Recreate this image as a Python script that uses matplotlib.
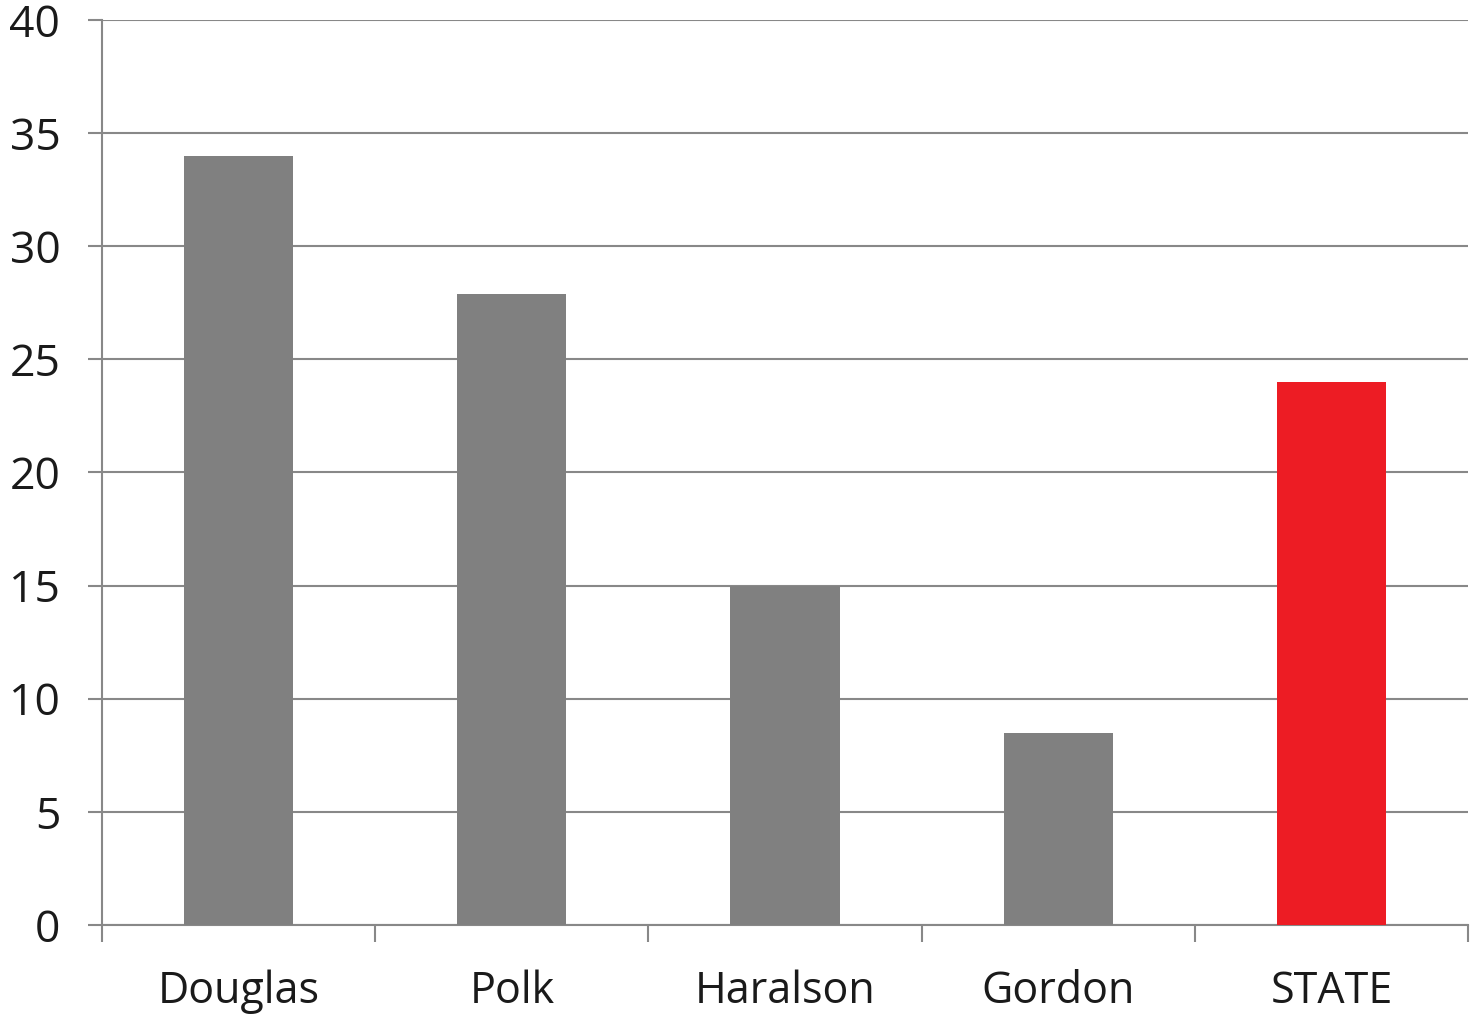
import matplotlib
matplotlib.use("Agg")
import matplotlib.pyplot as plt
import numpy as np

categories = ["Douglas", "Polk", "Haralson", "Gordon", "STATE"]
values = [34, 27.9, 15, 8.5, 24]
colors = ["#808080", "#808080", "#808080", "#808080", "#ED1C24"]
yticks = [0, 5, 10, 15, 20, 25, 30, 35, 40]

plt.rcParams['font.family'] = ['Open Sans', 'DejaVu Sans']

fig = plt.figure(figsize=(14.72, 10.15), dpi=100)
ax = fig.add_axes([0.0693, 0.0887, 0.9280, 0.8916])

x = np.arange(len(categories))
ax.bar(x, values, width=0.4, color=colors, zorder=3)

ax.set_xlim(-0.5, len(categories) - 0.5)
ax.set_ylim(0, 40)
ax.set_yticks(yticks)
ax.set_yticklabels([str(t) for t in yticks], fontsize=32, color="#1a1a1a")
ax.yaxis.grid(True, color="#888888", linewidth=1.5, zorder=0)

ax.set_xticks(np.arange(-0.5, len(categories), 1.0))
ax.set_xticklabels([])
ax.set_xticks(x, minor=True)
ax.set_xticklabels(categories, minor=True, fontsize=31, color="#1a1a1a")
ax.tick_params(axis='x', which='minor', length=0, pad=32)
ax.tick_params(axis='x', which='major', length=12, width=1.5, color="#888888", direction='out')
ax.tick_params(axis='y', length=10, width=1.5, color="#888888", pad=20)

for s in ["top", "right"]:
    ax.spines[s].set_visible(False)
for s in ["left", "bottom"]:
    ax.spines[s].set_color("#888888")
    ax.spines[s].set_linewidth(1.5)

fig.savefig("out.png", dpi=100)
